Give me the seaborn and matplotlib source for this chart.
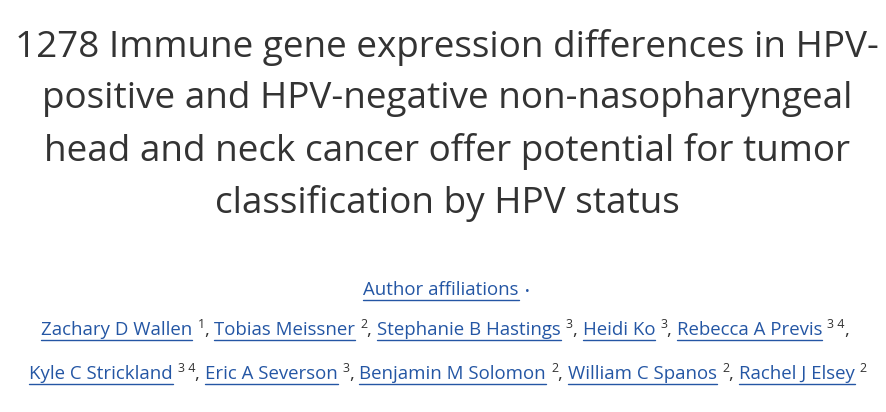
import matplotlib
matplotlib.use("Agg")
import matplotlib.pyplot as plt
import seaborn as sns

# --- contenuto ---
TITLE_LINES = [
    "1278 Immune gene expression differences in HPV-",
    "positive and HPV-negative non-nasopharyngeal",
    "head and neck cancer offer potential for tumor",
    "classification by HPV status",
]
AUTHORS_ROW1 = ["Zachary D Wallen", "Tobias Meissner", "Stephanie B Hastings", "Heidi Ko", "Rebecca A Previs"]
AFFIL_ROW1 = ["1", "2", "3", "3", "3 4"]
AUTHORS_ROW2 = ["Kyle C Strickland", "Eric A Severson", "Benjamin M Solomon", "William C Spanos", "Rachel J Elsey"]
AFFIL_ROW2 = ["3 4", "3", "2", "2", "2"]

BLUE = "#2456a4"
DARK = "#333333"

sns.set_theme(style="white")
plt.rcParams['font.family'] = ['Open Sans', 'DejaVu Sans']

fig = plt.figure(figsize=(8.86, 4.12), dpi=100)
ax = fig.add_axes([0, 0, 1, 1])
ax.set_xlim(0, 886)
ax.set_ylim(412, 0)
ax.axis("off")

# titolo
for i, line in enumerate(TITLE_LINES):
    ax.text(447, 47 + i * 52, line, ha="center", va="center", fontsize=26.6, color=DARK)

fig.canvas.draw()
renderer = fig.canvas.get_renderer()


def width(t):
    return t.get_window_extent(renderer).width


def author_row(names, affils, y, last_comma):
    items = []
    x = 0
    for k, (n, a) in enumerate(zip(names, affils)):
        t = ax.text(x, y, n, fontsize=13.4, color=BLUE, va="baseline")
        w = width(t)
        items.append((t, x, 0))
        line = ax.plot([x, x + w], [y + 5, y + 5], color=BLUE, lw=1)[0]
        items.append((line, x, w))
        x += w + 5
        s = ax.text(x, y - 7, a, fontsize=9, color=DARK, va="baseline")
        items.append((s, x, 0))
        x += width(s)
        if k < len(names) - 1 or last_comma:
            c = ax.text(x, y, ", ", fontsize=13.4, color=DARK, va="baseline")
            items.append((c, x, 0))
            x += width(c)
    off = 448 - x / 2
    for obj, x0, w in items:
        if w:
            obj.set_xdata([x0 + off, x0 + off + w])
        else:
            obj.set_x(x0 + off)


t = ax.text(441, 295, "Author affiliations", fontsize=13.4, color=BLUE, ha="center", va="baseline")
w = width(t)
ax.plot([441 - w / 2, 441 + w / 2], [300, 300], color=BLUE, lw=1)
ax.text(441 + w / 2 + 6, 295, "•", fontsize=9, color=BLUE, va="baseline")

author_row(AUTHORS_ROW1, AFFIL_ROW1, 335, True)
author_row(AUTHORS_ROW2, AFFIL_ROW2, 379, False)

fig.savefig("out.png", dpi=100)
